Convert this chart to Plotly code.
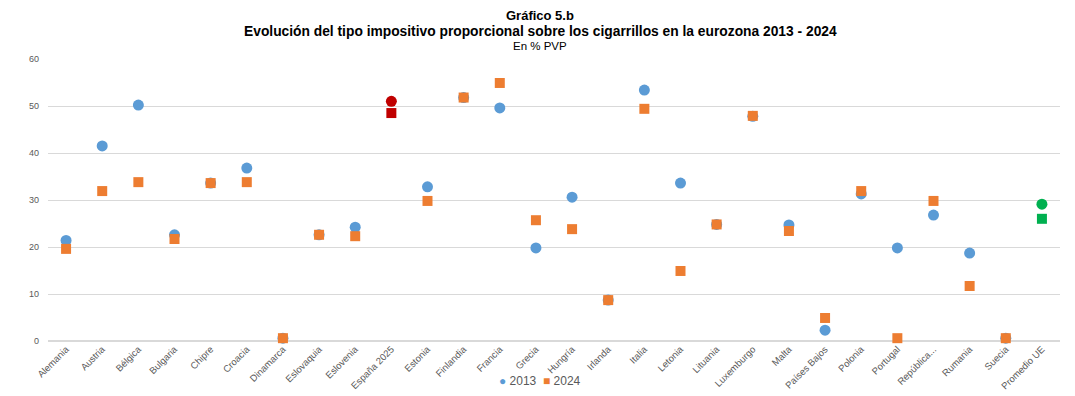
import plotly.graph_objects as go

paises = ['Alemania', 'Austria', 'Bélgica', 'Bulgaria', 'Chipre', 'Croacia', 'Dinamarca',
          'Eslovaquia', 'Eslovenia', 'España 2025', 'Estonia', 'Finlandia', 'Francia', 'Grecia',
          'Hungría', 'Irlanda', 'Italia', 'Letonia', 'Lituania', 'Luxemburgo', 'Malta',
          'Países Bajos', 'Polonia', 'Portugal', 'República...', 'Rumania', 'Suecia', 'Promedio UE']
tipo_2013 = [21.4, 41.5, 50.2, 22.6, 33.6, 36.8, 0.6, 22.6, 24.2, 51.0, 32.8, 51.8, 49.6, 19.8,
             30.6, 8.7, 53.4, 33.6, 24.8, 47.8, 24.7, 2.3, 31.3, 19.8, 26.8, 18.7, 0.6, 29.1]
tipo_2024 = [19.6, 31.9, 33.8, 21.7, 33.6, 33.8, 0.6, 22.6, 22.3, 48.5, 29.8, 51.8, 54.9, 25.7,
             23.8, 8.7, 49.4, 14.9, 24.8, 47.9, 23.4, 4.9, 31.9, 0.6, 29.8, 11.7, 0.6, 26.0]

AZUL, NARANJA, ROJO, VERDE = '#5B9BD5', '#ED7D31', '#C00000', '#00B050'
GRIS = '#595959'
FUENTE = 'Liberation Sans, Arial, sans-serif'


def colores(base):
    # España en rojo, promedio UE en verde
    out = []
    for p in paises:
        if p == 'España 2025':
            out.append(ROJO)
        elif p == 'Promedio UE':
            out.append(VERDE)
        else:
            out.append(base)
    return out


fig = go.Figure()
fig.add_trace(go.Scatter(x=paises, y=tipo_2013, mode='markers', name='2013', cliponaxis=False,
                         marker=dict(symbol='circle', size=11, color=colores(AZUL))))
fig.add_trace(go.Scatter(x=paises, y=tipo_2024, mode='markers', name='2024', cliponaxis=False,
                         marker=dict(symbol='square', size=10, color=colores(NARANJA))))


# la pagina tiene 8px de margen en el body; posiciones en pixeles de la pagina
def ypap(py):
    return (341 - py) / 282


def xpap(px):
    return (px - 48) / 1012


titulos = [('<b>Gráfico 5.b</b>', 16, 13),
           ('<b>Evolución del tipo impositivo proporcional sobre los cigarrillos en la eurozona 2013 - 2024</b>', 31, 13.8),
           ('En % PVP', 46, 11.5)]
for texto, py, tam in titulos:
    fig.add_annotation(text=texto, x=xpap(540), y=ypap(py), xref='paper', yref='paper',
                       xanchor='center', yanchor='middle', showarrow=False,
                       font=dict(size=tam, color='black', family=FUENTE))

# leyenda dibujada como texto
fig.add_annotation(text=f'<span style="color:{AZUL}">●</span> 2013  <span style="color:{NARANJA}">■</span> 2024',
                   x=xpap(540), y=ypap(381), xref='paper', yref='paper', xanchor='center',
                   yanchor='middle', showarrow=False, font=dict(size=12, color=GRIS, family=FUENTE))

fig.update_layout(
    width=1067, height=388,
    margin=dict(l=40, r=15, t=51, b=55, autoexpand=False),
    plot_bgcolor='white', paper_bgcolor='white',
    font=dict(family=FUENTE, color=GRIS, size=10),
    xaxis=dict(type='category', range=[-0.5, 27.5], tickangle=-45, showgrid=False,
               showline=False, ticks='', automargin=False,
               tickfont=dict(size=9.5, color=GRIS)),
    yaxis=dict(range=[0, 60], dtick=10, gridcolor='#D9D9D9', zeroline=True,
               zerolinecolor='#D9D9D9', showline=False, ticks='', automargin=False,
               ticklabelstandoff=8, tickfont=dict(size=9, color=GRIS)),
    showlegend=False,
)

fig.write_html('out.html')
